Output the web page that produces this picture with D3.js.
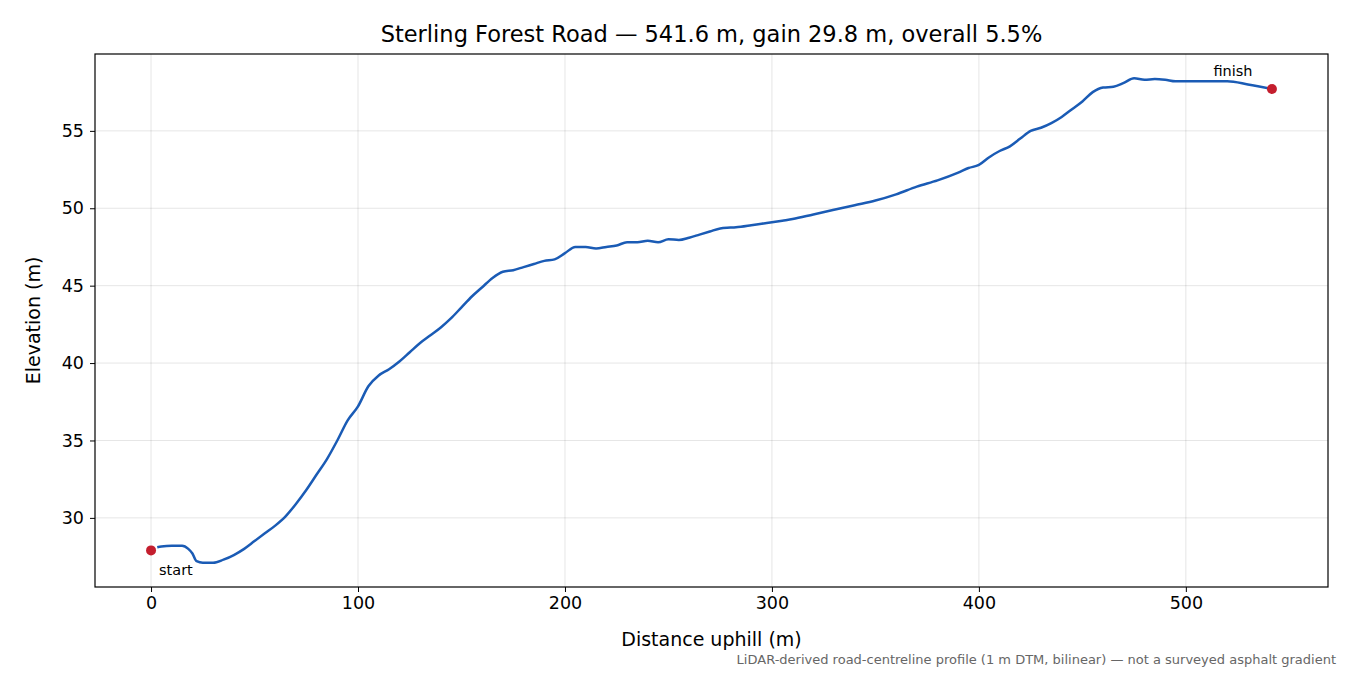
<!DOCTYPE html>
<html><head><meta charset="utf-8">
<script src="https://cdn.jsdelivr.net/npm/d3@7"></script>
<style>body{margin:0;background:#fff}text{font-family:"DejaVu Sans",sans-serif}</style>
</head><body><svg id="c" width="1350" height="675"></svg>
<script>
const distance=[0,3,5,10,15,18,20,22,25,30,35,40,45,50,55,60,65,70,75,80,85,90,95,100,105,110,115,120,125,130,135,140,145,150,155,160,165,170,175,180,185,190,195,200,205,210,215,220,225,230,235,240,245,250,255,260,265,270,275,280,285,290,295,300,305,310,320,330,340,350,360,370,380,390,395,400,405,410,415,420,425,430,435,440,445,450,455,460,465,470,475,480,485,490,495,500,510,520,530,541.6];
const elevation=[27.9,28.1,28.15,28.2,28.2,28.0,27.7,27.2,27.1,27.1,27.3,27.6,28.0,28.5,29.0,29.5,30.1,30.9,31.8,32.8,33.8,35.0,36.3,37.2,38.5,39.2,39.6,40.1,40.7,41.3,41.8,42.3,42.9,43.6,44.3,44.9,45.5,45.9,46.0,46.2,46.4,46.6,46.7,47.1,47.5,47.5,47.4,47.5,47.6,47.8,47.8,47.9,47.8,48.0,47.95,48.1,48.3,48.5,48.7,48.75,48.8,48.9,49.0,49.1,49.2,49.3,49.6,49.9,50.2,50.5,50.9,51.4,51.8,52.3,52.6,52.8,53.3,53.7,54.0,54.5,55.0,55.2,55.5,55.9,56.4,56.9,57.5,57.8,57.85,58.1,58.4,58.3,58.35,58.3,58.2,58.2,58.2,58.2,58.0,57.7];
const xTicks=[0,100,200,300,400,500];
const yTicks=[30,35,40,45,50,55];
const title="Sterling Forest Road — 541.6 m, gain 29.8 m, overall 5.5%";
const L=95,R=1328,T=54,B=587;
const svg=d3.select("#c");
const xmin=0,xmax=541.6,ymin=d3.min(elevation),ymax=d3.max(elevation);
const xp=(xmax-xmin)*0.05,yp=(ymax-ymin)*0.05;
const x=d3.scaleLinear().domain([xmin-xp,xmax+xp]).range([L,R]);
const y=d3.scaleLinear().domain([ymin-yp,ymax+yp]).range([B,T]);
const g=svg.append("g");
xTicks.forEach(t=>g.append("line").attr("x1",x(t)).attr("x2",x(t)).attr("y1",T).attr("y2",B).attr("stroke","#000").attr("stroke-opacity",0.1));
yTicks.forEach(t=>g.append("line").attr("x1",L).attr("x2",R).attr("y1",y(t)).attr("y2",y(t)).attr("stroke","#000").attr("stroke-opacity",0.1));
const xa=svg.append("g").attr("transform",`translate(0,${B})`).call(d3.axisBottom(x).tickValues(xTicks).tickSize(5).tickPadding(5));
const ya=svg.append("g").attr("transform",`translate(${L},0)`).call(d3.axisLeft(y).tickValues(yTicks).tickSize(5).tickPadding(6));
[xa,ya].forEach(a=>{a.select(".domain").remove();a.attr("font-size",null).attr("font-family",null);a.selectAll("text").attr("font-size",17.5).attr("fill","#000");a.selectAll("line").attr("stroke","#000");});
svg.append("rect").attr("x",L).attr("y",T).attr("width",R-L).attr("height",B-T).attr("fill","none").attr("stroke","#000").attr("stroke-width",1.2);
const pts=distance.map((d,i)=>[d,elevation[i]]);
svg.append("path").datum(pts.slice(1)).attr("fill","none").attr("stroke","#1a5bb5").attr("stroke-width",2.5)
 .attr("d",d3.line().x(d=>x(d[0])).y(d=>y(d[1])).curve(d3.curveMonotoneX));
[pts[0],pts[pts.length-1]].forEach(p=>svg.append("circle").attr("cx",x(p[0])).attr("cy",y(p[1])).attr("r",5).attr("fill","#c41e2e"));
svg.append("text").attr("x",x(0)+8).attr("y",y(elevation[0])+25).attr("font-size",14.5).text("start");
svg.append("text").attr("x",x(xmax)-39).attr("y",y(elevation[elevation.length-1])-13).attr("text-anchor","middle").attr("font-size",14.5).text("finish");
svg.append("text").attr("x",(L+R)/2).attr("y",42).attr("text-anchor","middle").attr("font-size",22.5).text(title);
svg.append("text").attr("x",(L+R)/2).attr("y",646).attr("text-anchor","middle").attr("font-size",19).text("Distance uphill (m)");
svg.append("text").attr("transform",`translate(40,${(T+B)/2}) rotate(-90)`).attr("text-anchor","middle").attr("font-size",19).text("Elevation (m)");
svg.append("text").attr("x",1336).attr("y",664).attr("text-anchor","end").attr("font-size",13).attr("fill","#666").text("LiDAR-derived road-centreline profile (1 m DTM, bilinear) — not a surveyed asphalt gradient");
</script></body></html>
